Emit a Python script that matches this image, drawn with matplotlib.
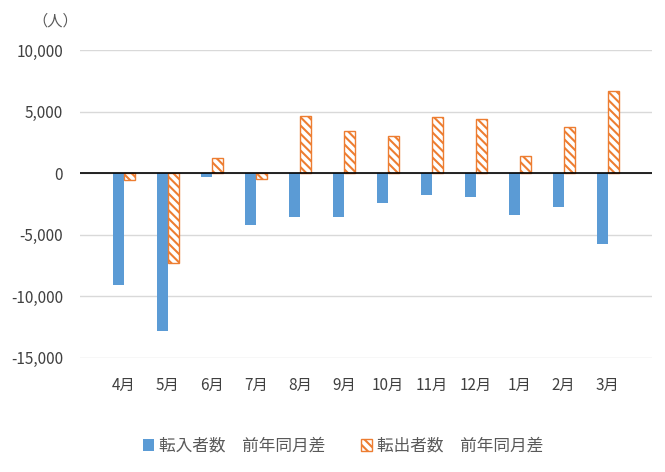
import numpy as np
import matplotlib
matplotlib.use('Agg')
import matplotlib.pyplot as plt

plt.rcParams['font.family'] = ['Noto Sans CJK JP', 'DejaVu Sans']
plt.rcParams['hatch.linewidth'] = 1.5

months = ['4月', '5月', '6月', '7月', '8月', '9月', '10月', '11月', '12月', '1月', '2月', '3月']
# 転入者数 前年同月差
tennyu = [-9100, -12800, -300, -4200, -3550, -3600, -2400, -1800, -1900, -3430, -2750, -5760]
# 転出者数 前年同月差
tenshutsu = [-530, -7300, 1230, -470, 4620, 3430, 3000, 4570, 4380, 1400, 3720, 6680]

blue = '#5b9bd5'
orange = '#ed7d31'
text_col = '#595959'

fig = plt.figure(figsize=(6.65, 4.72), dpi=100)
ax = fig.add_axes([0.120, 0.242, 0.860, 0.652])

x = np.arange(len(months))
w = 0.25
ax.bar(x - w / 2, tennyu, w, color=blue, label='転入者数　前年同月差', zorder=3)
ax.bar(x + w / 2, tenshutsu, w, color='white', edgecolor=orange, hatch='\\\\\\\\',
       linewidth=1.0, label='転出者数　前年同月差', zorder=3)

ax.set_xlim(-1, 12)
ax.set_ylim(-15000, 10000)
ax.set_yticks([-15000, -10000, -5000, 0, 5000, 10000])
ax.set_yticklabels([f'{v:,}' for v in [-15000, -10000, -5000, 0, 5000, 10000]])
ax.yaxis.grid(True, color='#d9d9d9', linewidth=1.0, zorder=0)
ax.axhline(0, color='black', linewidth=1.2, zorder=4)

ax.set_xticks(x)
ax.set_xticklabels(months)
ax.tick_params(axis='both', length=0, labelsize=11, colors='#404040')
ax.tick_params(axis='x', pad=14)
ax.tick_params(axis='y', pad=12)
for s in ax.spines.values():
    s.set_visible(False)

fig.text(0.048, 0.955, '（人）', fontsize=11, color=text_col, ha='left', va='center')

fig.legend(loc='center', bbox_to_anchor=(0.516, 0.055), ncol=2, frameon=False,
           fontsize=12, handlelength=0.7, handleheight=0.7, columnspacing=2.1,
           handletextpad=0.3, labelcolor=text_col)

plt.savefig('out.png', dpi=100)
